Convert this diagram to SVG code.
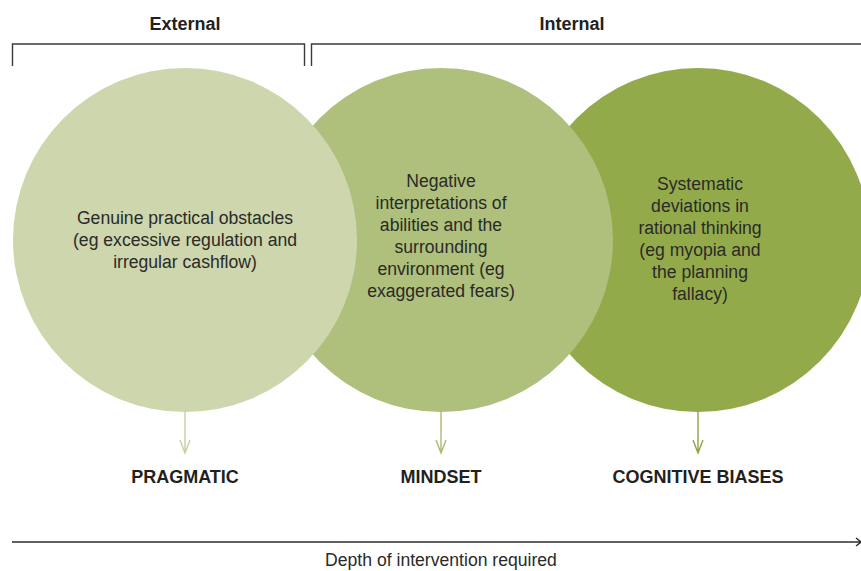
<svg xmlns="http://www.w3.org/2000/svg" width="861" height="571" viewBox="0 0 861 571">
  <defs>
    <style>
      .body { font-family: "Liberation Sans", Arial, sans-serif; font-size: 17.6px; fill: #2a2a28; text-anchor: middle; }
      .head { font-family: "Liberation Sans", Arial, sans-serif; font-size: 18px; font-weight: bold; fill: #231f20; text-anchor: middle; }
      .bracket { fill: none; stroke: #3a3a3a; stroke-width: 1.4; }
      .conn { fill: none; stroke-width: 1.4; }
    </style>
  </defs>
  <rect x="0" y="0" width="861" height="571" fill="#ffffff"/>

  <g id="brackets">
    <path class="bracket" d="M12.5,66 V44 H304.5 V66"/>
    <path class="bracket" d="M311.5,66 V44 H861"/>
    <text class="head" x="185" y="30">External</text>
    <text class="head" x="572" y="30">Internal</text>
  </g>

  <g id="node-cognitive">
    <circle cx="698" cy="240" r="172" fill="#93aa4b"/>
    <text class="body" x="700" y="190">Systematic</text>
    <text class="body" x="700" y="212">deviations in</text>
    <text class="body" x="700" y="234">rational thinking</text>
    <text class="body" x="700" y="256">(eg myopia and</text>
    <text class="body" x="700" y="278">the planning</text>
    <text class="body" x="700" y="300">fallacy)</text>
  </g>

  <g id="node-mindset">
    <circle cx="441" cy="240" r="172" fill="#aec07c"/>
    <text class="body" x="441" y="187">Negative</text>
    <text class="body" x="441" y="209">interpretations of</text>
    <text class="body" x="441" y="231">abilities and the</text>
    <text class="body" x="441" y="253">surrounding</text>
    <text class="body" x="441" y="275">environment (eg</text>
    <text class="body" x="441" y="297">exaggerated fears)</text>
  </g>

  <g id="node-pragmatic">
    <circle cx="185" cy="240" r="172" fill="#cdd6ad"/>
    <text class="body" x="185" y="224">Genuine practical obstacles</text>
    <text class="body" x="185" y="246">(eg excessive regulation and</text>
    <text class="body" x="185" y="268">irregular cashflow)</text>
  </g>

  <g id="connectors">
    <path class="conn" stroke="#c7d1a2" d="M185,411 V453 M180,440 L185,453 L190,440"/>
    <path class="conn" stroke="#a9bc74" d="M441,411 V453 M436,440 L441,453 L446,440"/>
    <path class="conn" stroke="#8ea545" d="M698,411 V453 M693,440 L698,453 L703,440"/>
    <path fill="none" stroke="#2e2e2e" stroke-width="1.4" d="M12,542 H861 M856,538 L861,542 L856,546"/>
  </g>

  <g id="labels">
    <text class="head" x="185" y="483">PRAGMATIC</text>
    <text class="head" x="441" y="483">MINDSET</text>
    <text class="head" x="698" y="483">COGNITIVE BIASES</text>
    <text class="body" x="441" y="566">Depth of intervention required</text>
  </g>
</svg>
